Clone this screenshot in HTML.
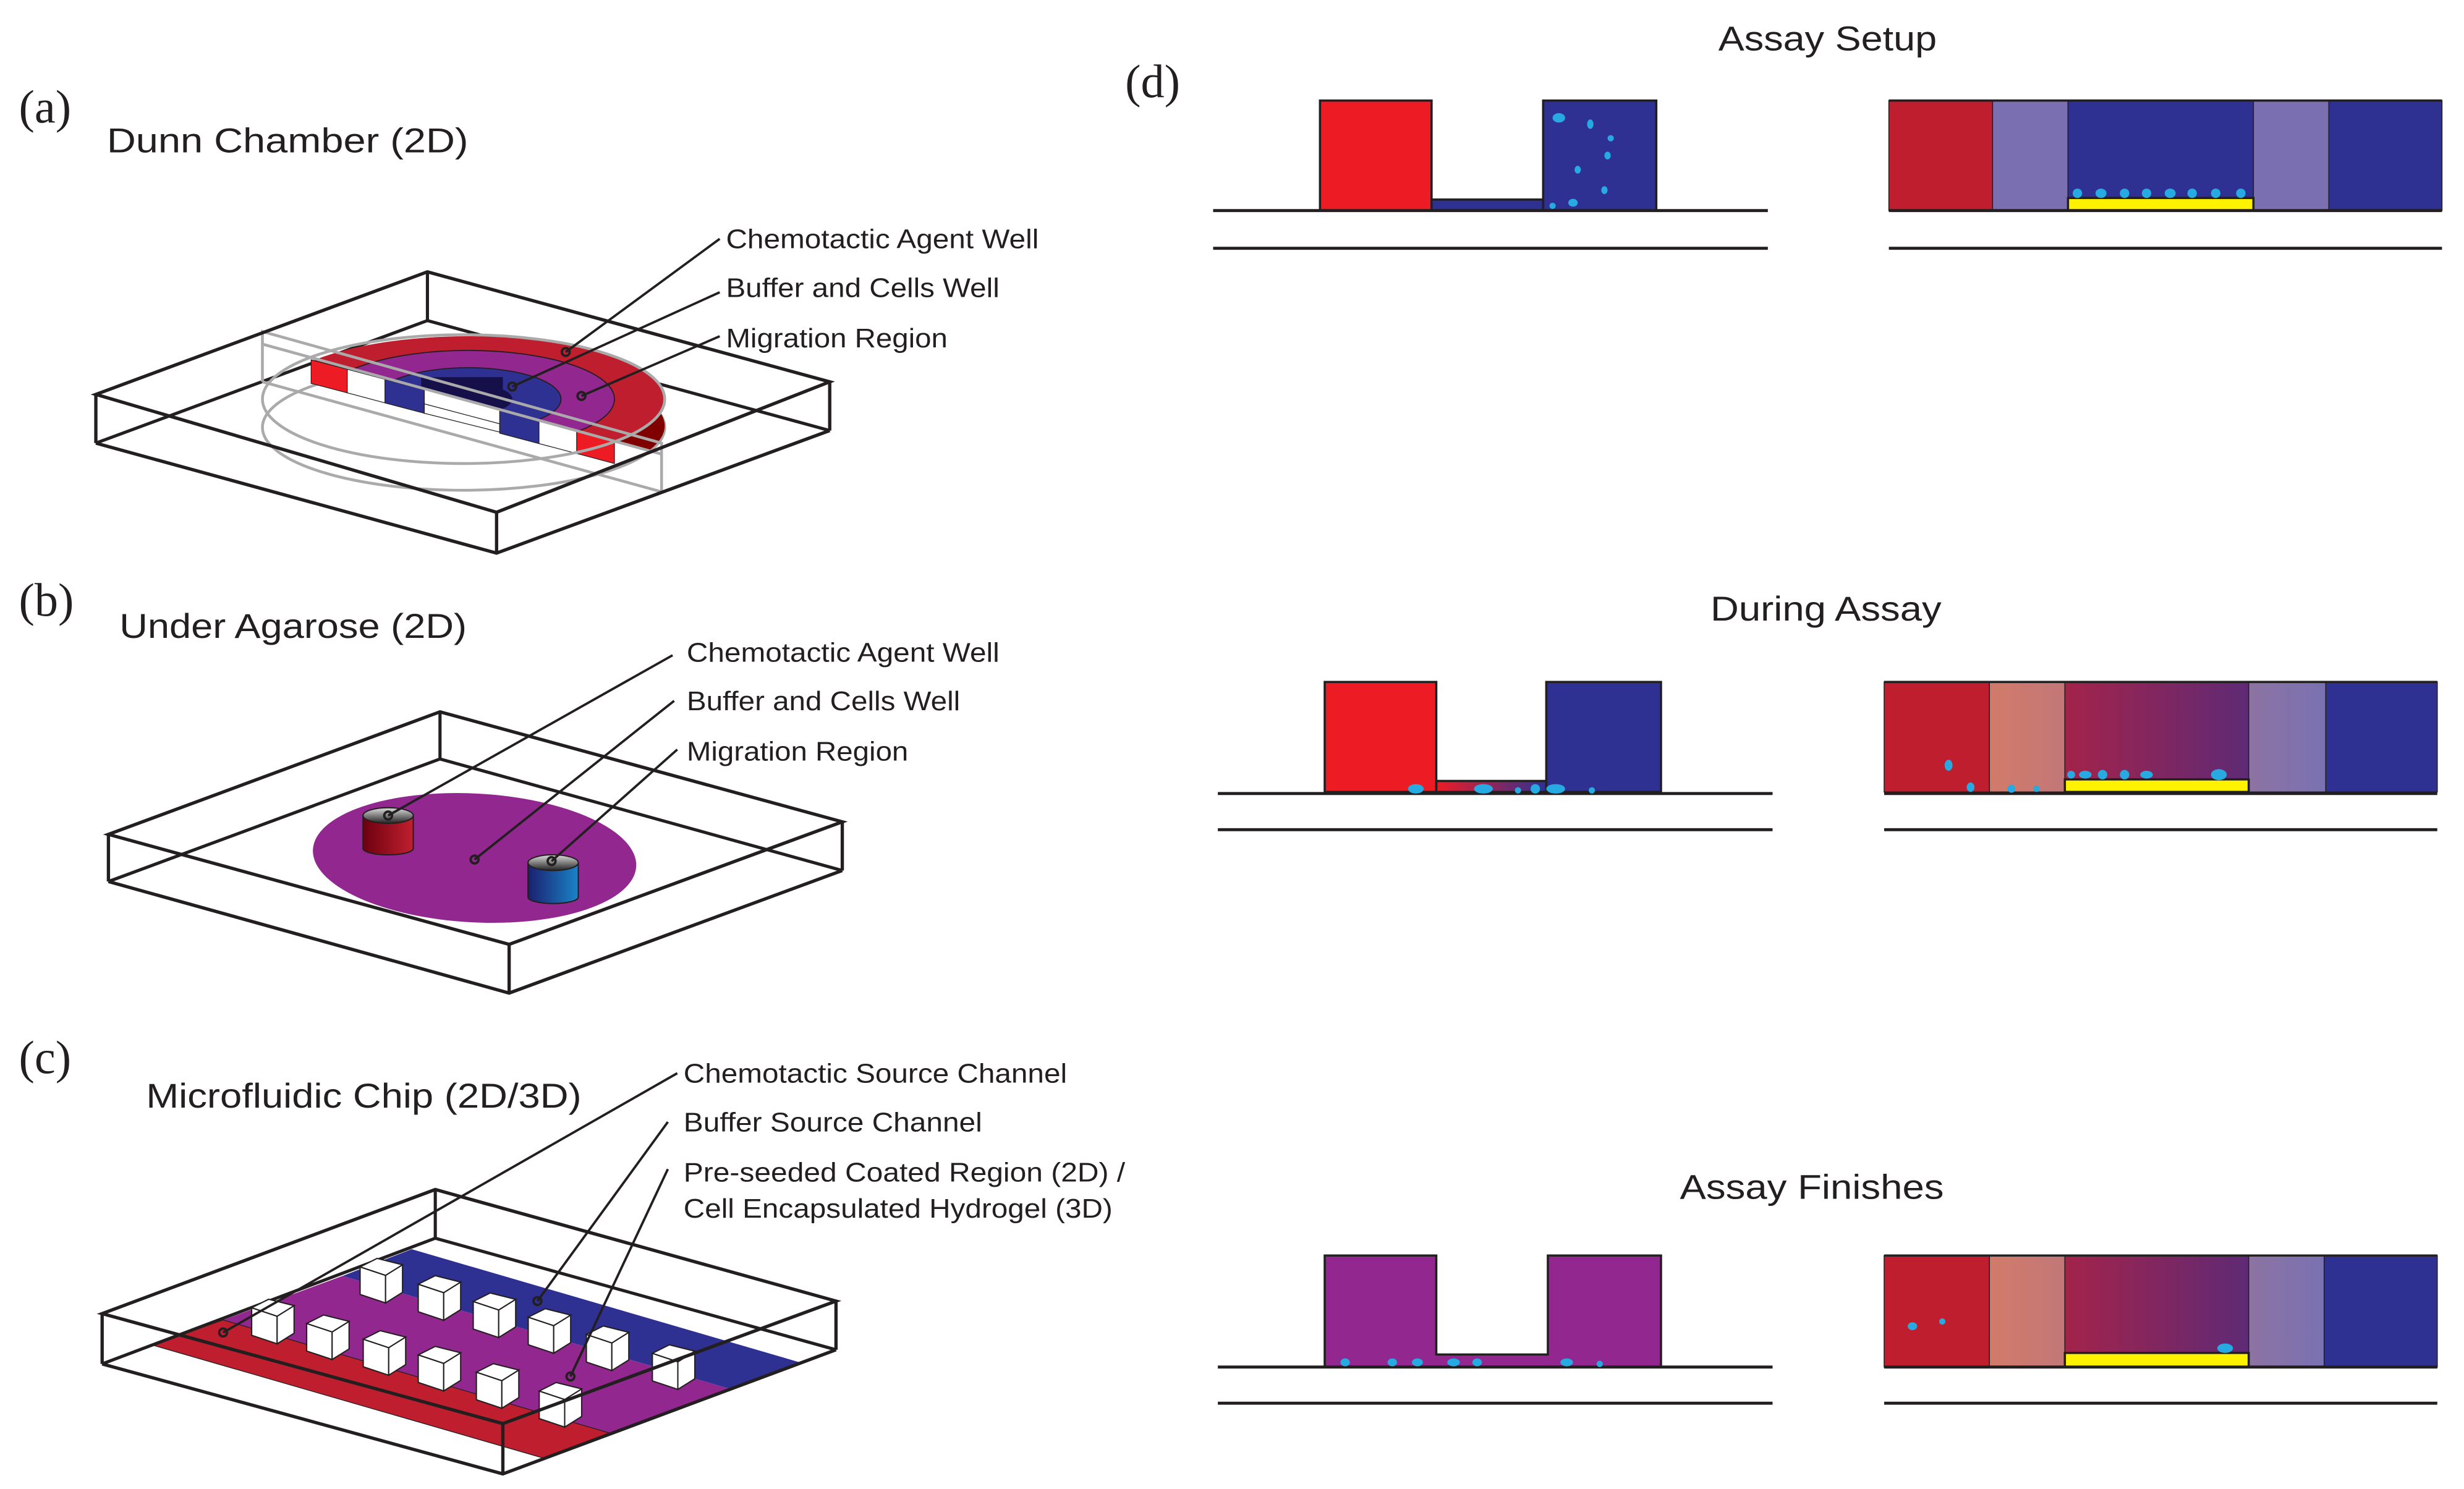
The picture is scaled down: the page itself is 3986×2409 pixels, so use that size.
<!DOCTYPE html>
<html><head><meta charset="utf-8"><style>
html,body{margin:0;padding:0;background:#fff;}
svg{display:block;}
text{font-family:"Liberation Sans",sans-serif;fill:#231f20;}
.s{font-family:"Liberation Serif",serif;}
</style></head><body>
<svg width="3986" height="2409" viewBox="0 0 1568 947.6" preserveAspectRatio="none" xmlns="http://www.w3.org/2000/svg">
<defs>
<clipPath id="cutA"><polygon points="150,100 450,100 450,296 150,216"/></clipPath>
<linearGradient id="rg" x1="0" x2="1"><stop offset="0" stop-color="#6d0010"/><stop offset="1" stop-color="#c0202e"/></linearGradient>
<linearGradient id="bg" x1="0" x2="1"><stop offset="0" stop-color="#1b1f6e"/><stop offset="1" stop-color="#1a84c8"/></linearGradient>
<linearGradient id="cap" x1="0" y1="0" x2="0" y2="1"><stop offset="0" stop-color="#ddd"/><stop offset="1" stop-color="#222"/></linearGradient>
<linearGradient id="ch" x1="0" x2="1"><stop offset="0" stop-color="#ed1c24"/><stop offset="1" stop-color="#2e3192"/></linearGradient>
<linearGradient id="mid" x1="0" x2="1"><stop offset="0" stop-color="#a3234a"/><stop offset="1" stop-color="#5e2a75"/></linearGradient>
<linearGradient id="sal" x1="0" x2="1"><stop offset="0" stop-color="#d27a6a"/><stop offset="1" stop-color="#c27878"/></linearGradient>
<linearGradient id="lav" x1="0" x2="1"><stop offset="0" stop-color="#8c73a2"/><stop offset="1" stop-color="#7a72b2"/></linearGradient>
<g id="p0"><polygon points="-11,-5 1,-1 1,12 -11,8" fill="#fff" stroke="#231f20" stroke-width="0.6"/><polygon points="1,-1 9,-6 9,7 1,12" fill="#fff" stroke="#231f20" stroke-width="0.6"/><polygon points="-11,-5 -3,-9 9,-6 1,-1" fill="#fff" stroke="#231f20" stroke-width="0.6"/></g>
<g id="p"><use href="#p0" transform="translate(0,-2) scale(1.35)"/></g>
</defs>

<!-- (a) -->
<text x="12" y="78" class="s" font-size="30">(a)</text>
<text x="68" y="97" font-size="22" textLength="230" lengthAdjust="spacingAndGlyphs">Dunn Chamber (2D)</text>
<g fill="none" stroke="#231f20" stroke-width="2">
<polyline points="61,282 272,204 528,274"/><line x1="272" y1="173" x2="272" y2="204"/>
</g>
<g fill="none" stroke="#aaa" stroke-width="1.8">
<ellipse cx="295" cy="272" rx="128" ry="40"/>
</g>
<g clip-path="url(#cutA)">
<ellipse cx="298" cy="271" rx="125" ry="40" fill="#800000"/>
<ellipse cx="298" cy="254" rx="125" ry="40" fill="#be1e2d"/>
<ellipse cx="298" cy="254" rx="93" ry="31" fill="#92278f" stroke="#231f20" stroke-width="0.7"/>
<ellipse cx="298" cy="254" rx="59" ry="20" fill="#2e3192" stroke="#231f20" stroke-width="0.7"/>
<ellipse cx="298" cy="254" rx="28" ry="10" fill="#16104a"/>
<rect x="268" y="240" width="52" height="40" fill="#16104a"/>
</g>
<g stroke="#231f20" stroke-width="0.5">
<polygon points="198,229 221,235 221,250 198,244" fill="#ed1c24"/>
<polygon points="221,235 245,241.4 245,256.4 221,250" fill="#fff"/>
<polygon points="245,241.4 270,248 270,263 245,256.4" fill="#2e3192"/>
<polygon points="270,257 318,269.7 318,275 270,263" fill="#fff"/>
<polygon points="318,260.7 343,267.3 343,282.3 318,275.7" fill="#2e3192"/>
<polygon points="343,267.3 367,273.6 367,288.6 343,282.3" fill="#fff"/>
<polygon points="367,273.6 391,280 391,295 367,288.6" fill="#ed1c24"/>
</g>
<g fill="none" stroke="#aaa" stroke-width="1.8">
<ellipse cx="295" cy="254" rx="128" ry="41"/>
<polyline points="167,243 167,211 421,282 421,313 167,243"/>
<line x1="167" y1="219" x2="421" y2="289"/>
</g>
<g fill="none" stroke="#231f20" stroke-width="2.1">
<polygon points="61,251 272,173 528,243 316,326"/>
<line x1="61" y1="251" x2="61" y2="282"/><line x1="528" y1="243" x2="528" y2="274"/><line x1="316" y1="326" x2="316" y2="352"/>
<polyline points="61,282 316,352 528,274"/>
</g>
<g fill="none" stroke="#231f20" stroke-width="1.5">
<line x1="458" y1="152" x2="360" y2="224"/><circle cx="360" cy="224" r="2.5"/>
<line x1="458" y1="186" x2="326" y2="246"/><circle cx="326" cy="246" r="2.5"/>
<line x1="458" y1="214" x2="370" y2="252"/><circle cx="370" cy="252" r="2.5"/>
</g>
<text x="462" y="158" font-size="17" textLength="199" lengthAdjust="spacingAndGlyphs">Chemotactic Agent Well</text>
<text x="462" y="189" font-size="17" textLength="174" lengthAdjust="spacingAndGlyphs">Buffer and Cells Well</text>
<text x="462" y="221" font-size="17" textLength="141" lengthAdjust="spacingAndGlyphs">Migration Region</text>

<!-- (b) -->
<text x="12" y="392" class="s" font-size="30">(b)</text>
<text x="76" y="406" font-size="22" textLength="221" lengthAdjust="spacingAndGlyphs">Under Agarose (2D)</text>
<g fill="none" stroke="#231f20" stroke-width="2">
<polyline points="69,561 280,483 536,554"/><line x1="280" y1="453" x2="280" y2="483"/>
</g>
<ellipse cx="302" cy="546" rx="103" ry="41" fill="#92278f" transform="rotate(3 302 546)"/>
<g stroke="#231f20" stroke-width="0.8">
<path d="M231,519 V540 A16,4 0 0 0 263,540 V519 Z" fill="url(#rg)"/>
<ellipse cx="247" cy="519" rx="16" ry="5" fill="url(#cap)"/>
<path d="M336,549 V571 A16,4 0 0 0 368,571 V549 Z" fill="url(#bg)"/>
<ellipse cx="352" cy="549" rx="16" ry="5" fill="url(#cap)"/>
</g>
<g fill="none" stroke="#231f20" stroke-width="2.1">
<polygon points="69,531 280,453 536,523 324,601"/>
<line x1="69" y1="531" x2="69" y2="561"/><line x1="536" y1="523" x2="536" y2="554"/><line x1="324" y1="601" x2="324" y2="632"/>
<polyline points="69,561 324,632 536,554"/>
</g>
<g fill="none" stroke="#231f20" stroke-width="1.5">
<line x1="428" y1="417" x2="247" y2="519"/><circle cx="247" cy="519" r="2.5"/>
<line x1="429" y1="446" x2="302" y2="547"/><circle cx="302" cy="547" r="2.5"/>
<line x1="431" y1="477" x2="351" y2="548"/><circle cx="351" cy="548" r="2.5"/>
</g>
<text x="437" y="421" font-size="17" textLength="199" lengthAdjust="spacingAndGlyphs">Chemotactic Agent Well</text>
<text x="437" y="452" font-size="17" textLength="174" lengthAdjust="spacingAndGlyphs">Buffer and Cells Well</text>
<text x="437" y="484" font-size="17" textLength="141" lengthAdjust="spacingAndGlyphs">Migration Region</text>

<!-- (c) -->
<text x="12" y="683" class="s" font-size="30">(c)</text>
<text x="93" y="705" font-size="22" textLength="277" lengthAdjust="spacingAndGlyphs">Microfluidic Chip (2D/3D)</text>
<polygon points="262,795 509,867 465,884 218,812" fill="#2e3192"/>
<polygon points="218,812 465,884 388,912 142,840" fill="#92278f"/>
<polygon points="142,840 388,912 346,928 97,856" fill="#be1e2d" stroke="#231f20" stroke-width="0.5"/>
<g fill="none" stroke="#231f20" stroke-width="2">
<polyline points="65,868 277,788 532,859"/><line x1="277" y1="757" x2="277" y2="788"/>
</g>
<use href="#p" x="244" y="815"/><use href="#p" x="281" y="826"/><use href="#p" x="316" y="837"/><use href="#p" x="351" y="847"/><use href="#p" x="388" y="858"/><use href="#p" x="430" y="870"/>
<use href="#p" x="175" y="841"/><use href="#p" x="210" y="851"/><use href="#p" x="246" y="861"/><use href="#p" x="281" y="871"/><use href="#p" x="318" y="882"/><use href="#p" x="358" y="894"/>
<g fill="none" stroke="#231f20" stroke-width="2.1">
<polygon points="65,836 277,757 532,828 320,906"/>
<line x1="65" y1="836" x2="65" y2="868"/><line x1="532" y1="828" x2="532" y2="859"/><line x1="320" y1="906" x2="320" y2="938"/>
<polyline points="65,868 320,938 532,859"/>
</g>
<g fill="none" stroke="#231f20" stroke-width="1.5">
<line x1="431" y1="683" x2="142" y2="848"/><circle cx="142" cy="848" r="2.5"/>
<line x1="425" y1="714" x2="342" y2="828"/><circle cx="342" cy="828" r="2.5"/>
<line x1="425" y1="744" x2="363" y2="876"/><circle cx="363" cy="876" r="2.5"/>
</g>
<text x="435" y="689" font-size="17" textLength="244" lengthAdjust="spacingAndGlyphs">Chemotactic Source Channel</text>
<text x="435" y="720" font-size="17" textLength="190" lengthAdjust="spacingAndGlyphs">Buffer Source Channel</text>
<text x="435" y="752" font-size="17" textLength="281" lengthAdjust="spacingAndGlyphs">Pre-seeded Coated Region (2D) /</text>
<text x="435" y="775" font-size="17" textLength="273" lengthAdjust="spacingAndGlyphs">Cell Encapsulated Hydrogel (3D)</text>

<!-- (d) -->
<text x="716" y="62" class="s" font-size="30">(d)</text>
<text x="1163" y="32" font-size="22" text-anchor="middle" textLength="139" lengthAdjust="spacingAndGlyphs">Assay Setup</text>
<text x="1162" y="395" font-size="22" text-anchor="middle" textLength="147" lengthAdjust="spacingAndGlyphs">During Assay</text>
<text x="1153" y="763" font-size="22" text-anchor="middle" textLength="168" lengthAdjust="spacingAndGlyphs">Assay Finishes</text>

<!-- row1 -->
<g stroke="#231f20" stroke-width="1.4">
<rect x="840" y="64" width="71" height="70" fill="#ed1c24"/>
<rect x="982" y="64" width="72" height="70" fill="#2e3192"/>
<rect x="911" y="127" width="71" height="7" fill="#2e3192"/>
<rect x="1202" y="64" width="66" height="70" fill="#be1e2d" stroke-width="0.6"/>
<rect x="1268" y="64" width="48" height="70" fill="#7a6fb0" stroke-width="0.6"/>
<rect x="1316" y="64" width="118" height="70" fill="#2e3192" stroke-width="0.6"/>
<rect x="1434" y="64" width="48" height="70" fill="#7a6fb0" stroke-width="0.6"/>
<rect x="1482" y="64" width="72" height="70" fill="#2e3192" stroke-width="0.6"/>
<rect x="1316" y="126" width="118" height="8" fill="#fff200"/>
<line x1="1202" y1="64" x2="1554" y2="64"/>
</g>
<g stroke="#231f20" stroke-width="1.9">
<line x1="772" y1="134" x2="1125" y2="134"/><line x1="772" y1="158" x2="1125" y2="158"/>
<line x1="1202" y1="134" x2="1554" y2="134"/><line x1="1202" y1="158" x2="1554" y2="158"/>
</g>
<g fill="#27aae1">
<ellipse cx="992" cy="75" rx="4" ry="3"/><ellipse cx="1012" cy="79" rx="2" ry="3"/><ellipse cx="1025" cy="88" rx="2" ry="2"/><ellipse cx="1023" cy="99" rx="2" ry="2.5"/><ellipse cx="1004" cy="108" rx="2" ry="2.5"/><ellipse cx="1021" cy="121" rx="2" ry="2.5"/><ellipse cx="1001" cy="129" rx="3" ry="2.5"/><ellipse cx="988" cy="131" rx="2" ry="2"/>
<ellipse cx="1322" cy="123" rx="3" ry="3"/><ellipse cx="1337" cy="123" rx="3.5" ry="3"/><ellipse cx="1352" cy="123" rx="3" ry="3"/><ellipse cx="1366" cy="123" rx="3" ry="3"/><ellipse cx="1381" cy="123" rx="3.5" ry="3"/><ellipse cx="1395" cy="123" rx="3" ry="3"/><ellipse cx="1410" cy="123" rx="3" ry="3"/><ellipse cx="1426" cy="123" rx="3" ry="3"/>
</g>

<!-- row2 -->
<g stroke="#231f20" stroke-width="1.4">
<rect x="843" y="434" width="71" height="70" fill="#ed1c24"/>
<rect x="984" y="434" width="73" height="70" fill="#2e3192"/>
<rect x="914" y="497" width="70" height="7" fill="url(#ch)"/>
<rect x="1199" y="434" width="67" height="70" fill="#be1e2d" stroke-width="0.6"/>
<rect x="1266" y="434" width="48" height="70" fill="url(#sal)" stroke-width="0.6"/>
<rect x="1314" y="434" width="117" height="70" fill="url(#mid)" stroke-width="0.6"/>
<rect x="1431" y="434" width="49" height="70" fill="url(#lav)" stroke-width="0.6"/>
<rect x="1480" y="434" width="71" height="70" fill="#2e3192" stroke-width="0.6"/>
<rect x="1314" y="496" width="117" height="8" fill="#fff200"/>
<line x1="1199" y1="434" x2="1551" y2="434"/>
</g>
<g stroke="#231f20" stroke-width="1.9">
<line x1="775" y1="505" x2="1128" y2="505"/><line x1="775" y1="528" x2="1128" y2="528"/>
<line x1="1199" y1="505" x2="1551" y2="505"/><line x1="1199" y1="528" x2="1551" y2="528"/>
</g>
<g fill="#27aae1">
<ellipse cx="901" cy="502" rx="5" ry="3"/><ellipse cx="944" cy="502" rx="6" ry="3"/><ellipse cx="966" cy="503" rx="2" ry="2"/><ellipse cx="977" cy="502" rx="3" ry="3"/><ellipse cx="990" cy="502" rx="6" ry="3"/><ellipse cx="1013" cy="503" rx="2" ry="2"/>
<ellipse cx="1240" cy="487" rx="2.5" ry="3.5"/><ellipse cx="1254" cy="501" rx="2.5" ry="3"/><ellipse cx="1280" cy="502" rx="2.5" ry="2.5"/><ellipse cx="1296" cy="502" rx="2" ry="2"/>
<ellipse cx="1318" cy="493" rx="2.5" ry="2.5"/><ellipse cx="1327" cy="493" rx="4" ry="2.5"/><ellipse cx="1338" cy="493" rx="3" ry="3"/><ellipse cx="1352" cy="493" rx="3" ry="3"/><ellipse cx="1366" cy="493" rx="4" ry="2.5"/><ellipse cx="1412" cy="493" rx="5" ry="3.5"/>
</g>

<!-- row3 -->
<g stroke="#231f20" stroke-width="1.4">
<path d="M843,870 V799 H914 V862 H985 V799 H1057 V870 Z" fill="#92278f"/>
<rect x="1199" y="799" width="67" height="71" fill="#be1e2d" stroke-width="0.6"/>
<rect x="1266" y="799" width="48" height="71" fill="url(#sal)" stroke-width="0.6"/>
<rect x="1314" y="799" width="117" height="71" fill="url(#mid)" stroke-width="0.6"/>
<rect x="1431" y="799" width="48" height="71" fill="url(#lav)" stroke-width="0.6"/>
<rect x="1479" y="799" width="72" height="71" fill="#2e3192" stroke-width="0.6"/>
<rect x="1314" y="861" width="117" height="9" fill="#fff200"/>
<line x1="1199" y1="799" x2="1551" y2="799"/>
</g>
<g stroke="#231f20" stroke-width="1.9">
<line x1="775" y1="870" x2="1128" y2="870"/><line x1="775" y1="893" x2="1128" y2="893"/>
<line x1="1199" y1="870" x2="1551" y2="870"/><line x1="1199" y1="893" x2="1551" y2="893"/>
</g>
<g fill="#27aae1">
<ellipse cx="856" cy="867" rx="3" ry="2.5"/><ellipse cx="886" cy="867" rx="3" ry="2.5"/><ellipse cx="902" cy="867" rx="3.5" ry="2.5"/><ellipse cx="925" cy="867" rx="4" ry="2.5"/><ellipse cx="940" cy="867" rx="3" ry="2.5"/><ellipse cx="997" cy="867" rx="4" ry="2.5"/><ellipse cx="1018" cy="868" rx="2" ry="2"/>
<ellipse cx="1217" cy="844" rx="3" ry="2.5"/><ellipse cx="1236" cy="841" rx="2" ry="2"/><ellipse cx="1416" cy="858" rx="5" ry="3"/>
</g>
</svg>
</body></html>
